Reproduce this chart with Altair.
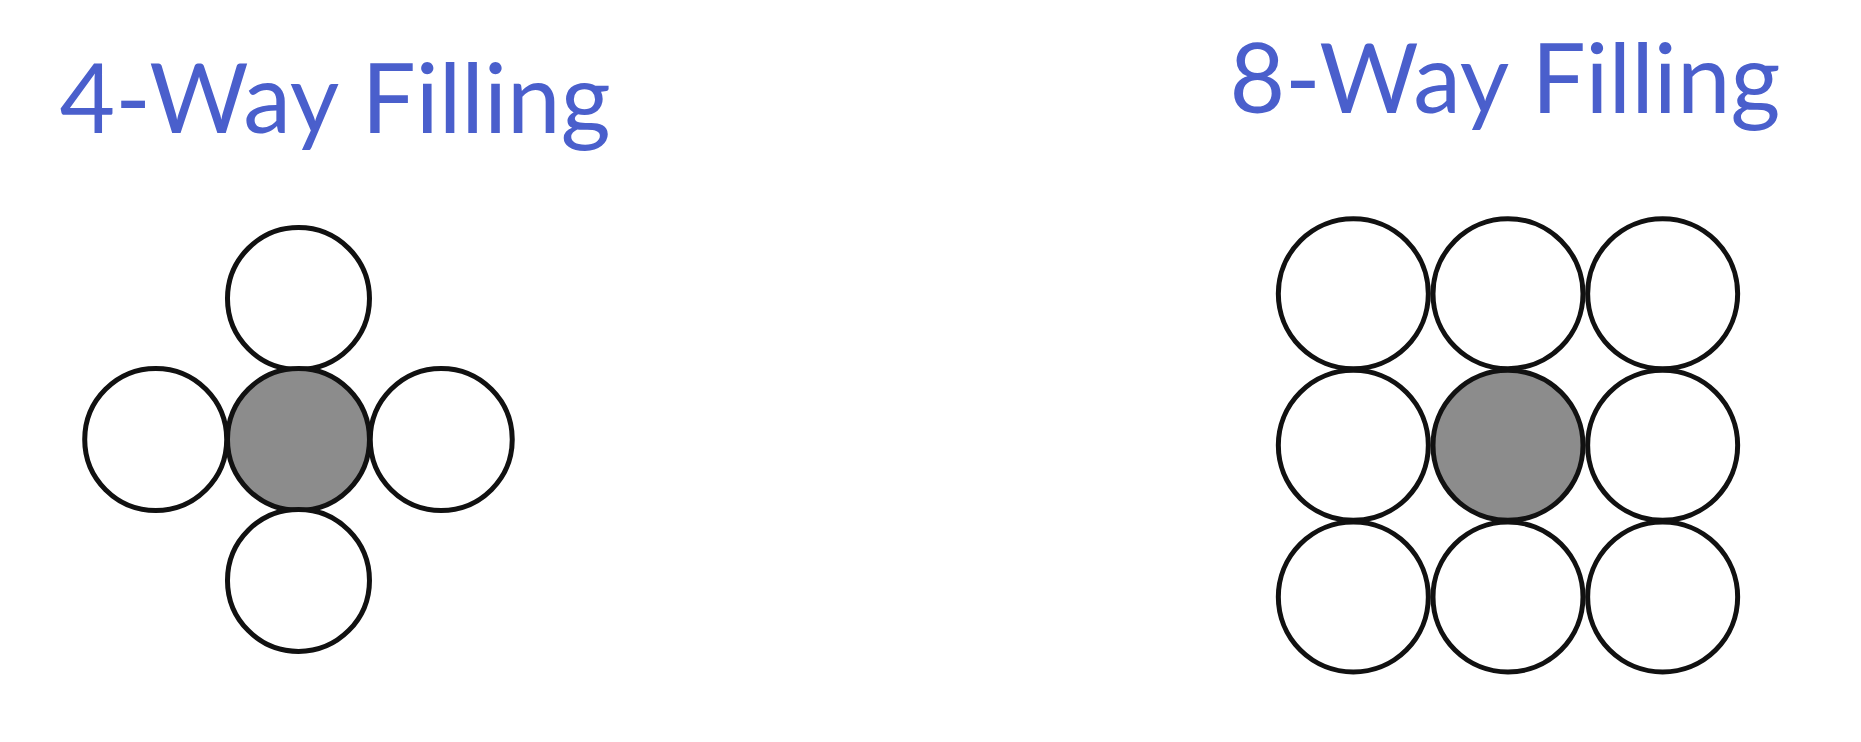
import altair as alt
import pandas as pd

# neighbour layouts: column / row offsets from the seed cell
four_col = [0, -1, 0, 1, 0]
four_row = [-1, 0, 0, 0, 1]
four_fill = [0, 0, 1, 0, 0]

eight_col = [-1, 0, 1, -1, 0, 1, -1, 0, 1]
eight_row = [-1, -1, -1, 0, 0, 0, 1, 1, 1]
eight_fill = [0, 0, 0, 0, 1, 0, 0, 0, 0]

titles = ["4-Way Filling", "8-Way Filling"]

four = pd.DataFrame({"col": four_col, "row": four_row, "filled": four_fill})
eight = pd.DataFrame({"col": eight_col, "row": eight_row, "filled": eight_fill})

W, H = 1861, 742
xs = alt.Scale(domain=[0, W])
ys = alt.Scale(domain=[0, H], reverse=True)
noax = None


def group(df, cx, cy, step_x, step_y, size):
    return (
        alt.Chart(df)
        .transform_calculate(
            px=f"{cx} + datum.col * {step_x}",
            py=f"{cy} + datum.row * {step_y}",
        )
        .mark_point(shape="circle", filled=False, strokeWidth=5, opacity=1)
        .encode(
            x=alt.X("px:Q", scale=xs, axis=noax),
            y=alt.Y("py:Q", scale=ys, axis=noax),
            fill=alt.Fill(
                "filled:N",
                scale=alt.Scale(domain=[0, 1], range=["#ffffff", "#8c8c8c"]),
                legend=None,
            ),
            stroke=alt.value("#111111"),
            size=alt.value(size),
        )
    )


left = group(four, 293, 441, 144, 144, 142 ** 2)
right = group(eight, 1513, 447, 156, 155, 150 ** 2)

title_df = pd.DataFrame({"label": titles, "tx": [52, 1232], "ty": [98, 78]})
text = (
    alt.Chart(title_df)
    .mark_text(align="left", baseline="middle", font="Lato", fontSize=96,
               color="#4a5fcc")
    .encode(
        x=alt.X("tx:Q", scale=xs, axis=noax),
        y=alt.Y("ty:Q", scale=ys, axis=noax),
        text="label:N",
    )
)

chart = (
    alt.layer(left, right, text)
    .properties(width=1845, height=726, padding=0,
                autosize=alt.AutoSizeParams(type="fit", contains="padding"))
    .configure_view(stroke=None)
)

chart.save("out.html", embed_options={"renderer": "svg", "actions": False})
